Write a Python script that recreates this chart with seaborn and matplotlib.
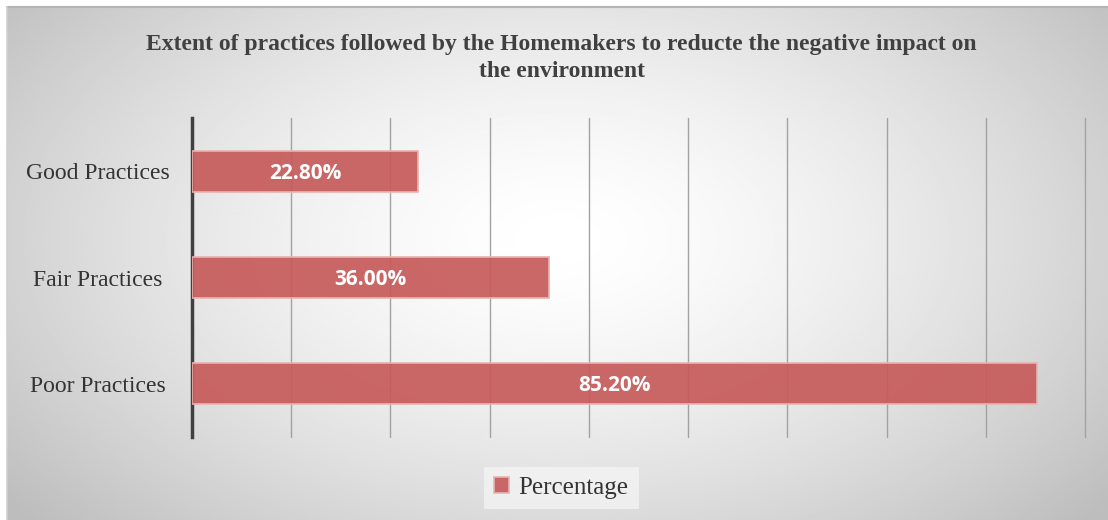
import numpy as np
import pandas as pd
import matplotlib
matplotlib.use("Agg")
import matplotlib.pyplot as plt
import seaborn as sns

# chart data
categories = ["Good Practices", "Fair Practices", "Poor Practices"]
percentages = [22.80, 36.00, 85.20]
series_name = "Percentage"

df = pd.DataFrame({"Practice": categories, series_name: percentages})

sns.set_theme(style="white")
plt.rcParams["font.family"] = ["Liberation Serif", "DejaVu Serif"]

fig = plt.figure(figsize=(11.08, 5.2), dpi=100)

# radial grey-to-white background like the office chart area
bx0, by1 = 7 / 1108, 1 - 7 / 520
bg = fig.add_axes([bx0, 0, 1 - bx0, by1], zorder=-10)
h, w = 260, 550
yy, xx = np.mgrid[0:h, 0:w]
cx, cy = 0.5 * w, 0.45 * h
d = np.sqrt(((xx - cx) / (0.62 * w)) ** 2 + ((yy - cy) / (0.78 * h)) ** 2)
shade = 255 - 62 * np.clip(d, 0, 1.05) ** 1.5
bg.imshow(shade, cmap="gray", vmin=0, vmax=255, aspect="auto",
          extent=[0, 1, 1, 0], interpolation="bilinear")
bg.set_axis_off()
fig.add_artist(plt.Line2D([bx0, 1], [by1, by1], color="#b4b4b4", lw=1.5,
                          transform=fig.transFigure))
fig.add_artist(plt.Line2D([bx0, bx0], [0, by1], color="#d0d0d0", lw=1.2,
                          transform=fig.transFigure))

ax = fig.add_axes([192 / 1108, 1 - 437 / 520, (1085 - 192) / 1108, (437 - 118) / 520])
ax.set_facecolor("none")

sns.barplot(data=df, y="Practice", x=series_name, orient="h", ax=ax,
            color="#C65A5A", saturation=1, alpha=0.92, width=0.385,
            edgecolor="#e6b4b2", linewidth=1.3, label=series_name, zorder=3)

anns = ax.bar_label(ax.containers[0], labels=[f"{v:.2f}%" for v in percentages],
                    label_type="center", color="white", fontsize=15,
                    fontweight="bold", family="Open Sans")
for a in anns:
    a.xyann = (0, -1.5)

ax.set_xlim(0, 90)
ax.set_ylim(2.5, -0.5)
ax.set_xticks(np.arange(0, 91, 10))
ax.set_xticklabels([])
ax.grid(axis="x", color="#a2a2a2", lw=1.0)
for gl in ax.get_xgridlines():
    gl.set_clip_on(False)
ax.set_axisbelow(True)
for s in ["top", "right", "bottom"]:
    ax.spines[s].set_visible(False)
ax.spines["left"].set_color("#404040")
ax.spines["left"].set_linewidth(2.5)
ax.tick_params(axis="both", length=0)
ax.tick_params(axis="y", labelsize=17, labelcolor="#333333", pad=68)
for t in ax.get_yticklabels():
    t.set_horizontalalignment("center")
ax.set_xlabel("")
ax.set_ylabel("")

fig.text(0.507, 0.889,
         "Extent of practices followed by the Homemakers to reducte the negative impact on\nthe environment",
         ha="center", va="center", fontsize=17, fontweight="bold",
         color="#404040", linespacing=1.38)

leg = ax.legend(loc="center", bbox_to_anchor=(561 / 1108, 1 - 488 / 520),
                bbox_transform=fig.transFigure, frameon=True,
                fontsize=18, handlelength=0.6, handleheight=0.6,
                handletextpad=0.4, borderpad=0.4)
leg.get_frame().set_facecolor("#f6f6f6")
leg.get_frame().set_edgecolor("none")
leg.get_frame().set_alpha(0.7)
leg.get_frame().set_boxstyle("square", pad=0)
for t in leg.get_texts():
    t.set_color("#333333")

fig.savefig("out.png", dpi=100)
